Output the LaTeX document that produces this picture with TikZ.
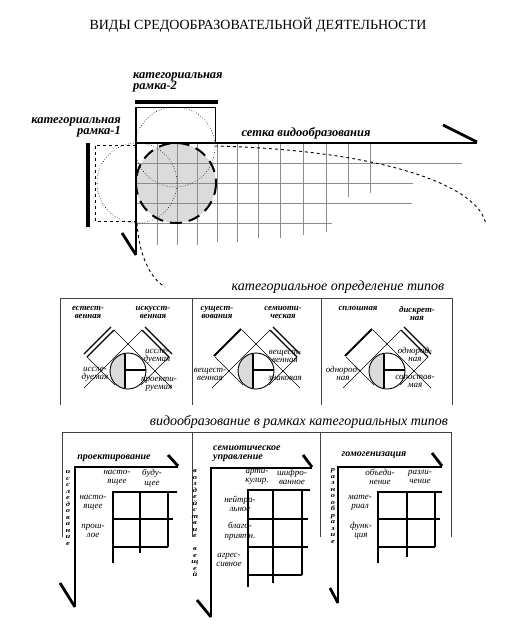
\documentclass[tikz,border=0pt]{standalone}
\usepackage{fontspec}
\setmainfont{Liberation Serif}
\newfontfamily\stackfont[FakeStretch=1.3]{Liberation Serif}
\usepackage{xcolor}
\definecolor{gridgray}{rgb}{0.55,0.55,0.55}
\definecolor{fillgray}{rgb}{0.86,0.86,0.86}

\tikzset{
  ttl/.style={font=\fontsize{14}{16}\selectfont, inner sep=0pt},
  lbl/.style={font=\bfseries\itshape\fontsize{12.5}{11}\selectfont, align=left, inner sep=0pt},
  hdr/.style={font=\itshape\fontsize{14}{16}\selectfont, inner sep=0pt},
  catlbl/.style={font=\bfseries\itshape\fontsize{8.8}{8.2}\selectfont, align=center, inner sep=0pt},
  sml/.style={font=\itshape\fontsize{9}{8}\selectfont, align=center, inner sep=0pt},
  ptitle/.style={font=\bfseries\itshape\fontsize{10}{9}\selectfont, align=left, inner sep=0pt},
  colhd/.style={font=\itshape\fontsize{9}{9.5}\selectfont, align=center, inner sep=0pt},
  stack/.style={font=\stackfont\bfseries\itshape\fontsize{6.5}{6.5}\selectfont, align=center, inner sep=0pt},
  barline/.style={line width=3.5pt},
  tickline/.style={line width=2.8pt},
  axisline/.style={line width=1.2pt},
  gridline/.style={line width=0.6pt, gridgray},
  boxline/.style={line width=0.8pt, black!75},
  tabthick/.style={line width=2pt},
  tabthin/.style={line width=1.1pt},
  thinline/.style={line width=0.6pt}
}

\begin{document}
\begin{tikzpicture}[x=1pt,y=-1pt]
\useasboundingbox (0,0) rectangle (511,639);
\fill[white] (0,0) rectangle (511,639);

% Title
\node[ttl] (title) at (258,25) {ВИДЫ СРЕДООБРАЗОВАТЕЛЬНОЙ ДЕЯТЕЛЬНОСТИ};

% Grid (top picture)
\fill[fillgray] (176,183) circle (40);
\draw[gridline] (157,143) -- (157,245);
\draw[gridline] (177,143) -- (177,245);
\draw[gridline] (197,143) -- (197,245);
\draw[gridline] (217,143) -- (217,242);
\draw[gridline] (237,143) -- (237,242);
\draw[gridline] (258,143) -- (258,238);
\draw[gridline] (280,143) -- (280,238);
\draw[gridline] (303,143) -- (303,235);
\draw[gridline] (326,143) -- (326,232);
\draw[gridline] (348,143) -- (348,197);
\draw[gridline] (370,143) -- (370,193);
\draw[gridline] (136,163) -- (462,163);
\draw[gridline] (136,183) -- (413,183);
\draw[gridline] (136,203) -- (412,203);
\draw[gridline] (136,223) -- (332,223);

% Categorial frames and circles (top picture)
\draw[thinline, dotted] (175,147) circle (40);
\draw[thinline, dotted] (137,183) circle (40);
\draw[line width=2pt, dash pattern=on 12pt off 7pt] (176,183) circle (40);
\draw[thinline] (136,107) -- (215,107) -- (215,143);
\draw[line width=0.9pt, dashed] (136,145) -- (95,145) -- (95,221) -- (136,221);
\draw[line width=0.9pt, dashed] (215,146) .. controls (380,150) and (480,185) .. (486,225);
\draw[line width=0.9pt, dashed] (137,223) .. controls (139,255) and (150,278) .. (165,287);
\draw[axisline] (136,107) -- (136,255);
\draw[line width=1.8pt] (136,143) -- (477,143);
\draw[tickline] (443,125) -- (477,142);
\draw[tickline] (122,233) -- (136,255);
\draw[barline] (135,102) -- (218,102);
\draw[barline] (88,143) -- (88,227);
\node[lbl, anchor=west] (ramka2) at (133,82) {категориальная\\рамка-2};
\node[lbl, anchor=east, align=right] (ramka1) at (121,127) {категориальная\\рамка-1};
\node[lbl] (setka) at (306,133) {сетка видообразования};

% Categorial definition of types
\node[hdr] (katdef) at (338,287) {категориальное определение типов};
\draw[boxline] (60,405) -- (60,298) -- (452,298) -- (452,405);
\draw[boxline] (192,298) -- (192,405);
\draw[boxline] (321,298) -- (321,405);

% panel 1
\node[catlbl, anchor=north] (estest) at (88,306) {естест-\\венная};
\node[catlbl, anchor=north] (iskus) at (153,306) {искусст-\\венная};
\draw[thinline] (114,330) -- (172,388);
\draw[thinline] (142,330) -- (84,388);
\draw[thinline] (87,357) -- (115,385);
\draw[thinline] (169,357) -- (141,385);
\draw[tabthin] (84,354) -- (111,327);
\draw[tabthin] (87,357) -- (114,330);
\draw[tabthin] (145,327) -- (172,354);
\draw[tabthin] (142,330) -- (169,357);
\fill[white] (128,371) circle (18);
\begin{scope}
\clip (128,371) circle (18);
\fill[fillgray] (108,350) rectangle (125,392);
\end{scope}
\draw[line width=0.9pt] (128,371) circle (18);
\draw[line width=1.2pt] (125,354) -- (125,388);
\draw[line width=1.2pt] (125,370) -- (146,370);
\node[sml] (issl1a) at (157,356) {иссле-\\дуемая};
\node[sml] (proek1) at (159,384) {проекти-\\руемая};
\node[sml] (issl1b) at (95,374) {иссле-\\дуемая};

% panel 2
\node[catlbl, anchor=north] (sushch) at (217,306) {сущест-\\вования};
\node[catlbl, anchor=north] (semiot) at (283,306) {семиоти-\\ческая};
\draw[thinline] (242,330) -- (300,388);
\draw[thinline] (270,330) -- (212,388);
\draw[thinline] (215,357) -- (243,385);
\draw[thinline] (297,357) -- (269,385);
\draw[line width=2pt] (214,356) -- (241,329);
\draw[tabthin] (273,327) -- (300,354);
\draw[tabthin] (270,330) -- (297,357);
\fill[white] (256,371) circle (18);
\begin{scope}
\clip (256,371) circle (18);
\fill[fillgray] (236,350) rectangle (253,392);
\end{scope}
\draw[line width=0.9pt] (256,371) circle (18);
\draw[line width=1.2pt] (253,354) -- (253,388);
\draw[line width=1.2pt] (253,370) -- (274,370);
\node[sml] (veshch2a) at (285,356) {вещест-\\венная};
\node[sml] (znak2) at (285,378) {знаковая};
\node[sml] (veshch2b) at (210,374) {вещест-\\венная};

% panel 3
\node[catlbl, anchor=north] (splosh) at (358,306) {сплошная};
\node[catlbl, anchor=north] (diskr) at (417,306) {дискрет-\\ная};
\draw[thinline] (373,330) -- (431,388);
\draw[thinline] (401,330) -- (343,388);
\draw[thinline] (346,357) -- (374,385);
\draw[thinline] (428,357) -- (400,385);
\draw[line width=2pt] (345,356) -- (372,329);
\draw[tabthin] (404,327) -- (431,354);
\draw[tabthin] (401,330) -- (428,357);
\fill[white] (387,371) circle (18);
\begin{scope}
\clip (387,371) circle (18);
\fill[fillgray] (367,350) rectangle (384,392);
\end{scope}
\draw[line width=0.9pt] (387,371) circle (18);
\draw[line width=1.2pt] (384,354) -- (384,388);
\draw[line width=1.2pt] (384,370) -- (405,370);
\node[sml] (odn3a) at (415,354) {однород-\\ная};
\node[sml] (sopost3) at (415,381) {сопостав-\\мая};
\node[sml] (odn3b) at (343,373) {однород-\\ная};

% Species formation within categorial types
\node[hdr] (vidobr) at (299,422) {видообразование в рамках категориальных типов};
\draw[boxline] (62,537) -- (62,432) -- (451,432) -- (451,537);
\draw[boxline] (192,432) -- (192,537);
\draw[boxline] (320,432) -- (320,537);

% bottom panel 1
\draw[axisline] (178,467) -- (75,467) -- (75,607);
\draw[tickline] (168,455) -- (178,466);
\draw[tickline] (60,583) -- (75,607);
\node[ptitle] (proekt) at (114,458) {проектирование};
\node[stack] (issled) at (68,508) {и\\с\\с\\л\\е\\д\\о\\в\\а\\н\\и\\е};
\node[colhd] (nast1) at (117,478) {насто-\\ящее};
\node[colhd] (budush) at (152,478) {буду-\\щее};
\node[colhd] (nast2) at (93,503) {насто-\\ящее};
\node[colhd] (prosh) at (93,531) {прош-\\лое};
\draw[tabthin] (140,492) -- (140,553);
\draw[tabthin] (168,492) -- (168,547);
\draw[tabthin] (113,519) -- (173,519);
\draw[tabthin] (113,547) -- (168,547);
\draw[tabthick] (177,492) -- (113,492) -- (113,563);

% bottom panel 2
\draw[axisline] (312,468) -- (211,468) -- (211,617);
\draw[tickline] (303,455) -- (312,467);
\draw[tickline] (197,600) -- (211,617);
\node[ptitle, anchor=west] (semupr) at (213,454) {семиотическое\\управление};
\node[stack] (vozd) at (195,523) {в\\о\\з\\д\\е\\й\\с\\т\\в\\и\\е\\[6.5pt]в\\е\\щ\\е\\й};
\node[colhd] (artik) at (257,477) {арти-\\кулир.};
\node[colhd] (shifr) at (292,477) {шифро-\\ванное};
\node[colhd] (neitr) at (240,504) {нейтра-\\льное};
\node[colhd] (blago) at (240,531) {благо-\\приятн.};
\node[colhd] (agres) at (229,560) {агрес-\\сивное};
\draw[tabthin] (273,490) -- (273,583);
\draw[tabthin] (302,490) -- (302,575);
\draw[tabthin] (248,519) -- (308,519);
\draw[tabthin] (248,547) -- (308,547);
\draw[tabthin] (248,575) -- (302,575);
\draw[tabthick] (310,490) -- (248,490) -- (248,587);

% bottom panel 3
\draw[axisline] (442,467) -- (338,467) -- (338,603);
\draw[tickline] (432,453) -- (442,466);
\draw[tickline] (330,588) -- (338,603);
\node[ptitle] (gomog) at (374,455) {гомогенизация};
\node[stack] (raznoobr) at (333,506) {р\\а\\з\\н\\о\\о\\б\\р\\а\\з\\и\\е};
\node[colhd] (obyed) at (380,477) {объеди-\\нение};
\node[colhd] (razl) at (420,477) {разли-\\чение};
\node[colhd] (mater) at (360,503) {мате-\\риал};
\node[colhd] (funk) at (361,531) {функ-\\ция};
\draw[tabthin] (407,492) -- (407,557);
\draw[tabthin] (435,492) -- (435,547);
\draw[tabthin] (378,519) -- (440,519);
\draw[tabthin] (378,547) -- (435,547);
\draw[tabthick] (442,492) -- (378,492) -- (378,563);
\end{tikzpicture}
\end{document}
